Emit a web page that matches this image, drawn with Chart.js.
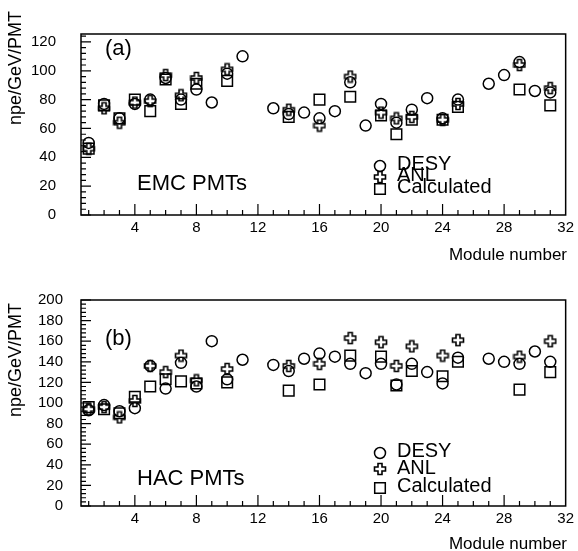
<!DOCTYPE html>
<html lang="en">
<head>
  <meta charset="UTF-8">
  <title>EMC / HAC PMT light yield</title>
  <script src="https://cdn.jsdelivr.net/npm/chart.js"></script>
  <style>
    body { margin: 0; background: #fff; }
    canvas { position: absolute; left: 0; }
    #emcChart { top: 0; }
    #hacChart { top: 268px; }
  </style>
</head>
<body>
  <canvas id="emcChart" width="578" height="268"></canvas>
  <canvas id="hacChart" width="578" height="283"></canvas>

  <script>
    // module numbers 1..31 (12 and 26 have no data)
    const modules = [1,2,3,4,5,6,7,8,9,10,11,12,13,14,15,16,17,18,19,20,21,22,23,24,25,26,27,28,29,30,31];
    const xTicks = [4, 8, 12, 16, 20, 24, 28, 32];
    const emcTicks = [0, 20, 40, 60, 80, 100, 120];
    const hacTicks = [0, 20, 40, 60, 80, 100, 120, 140, 160, 180, 200];

    // (a) EMC PMTs
    const emcDesy = [50,77,67,77,80,95,80,87,78,98,110,null,74,70,71,67,72,92,62,77,64,73,81,67,80,null,91,97,106,86,85];
    const emcAnl  = [46,74,64,78,79,97,83,95,null,101,null,null,null,73,null,62,null,96,null,71,67,68,null,66,77,null,null,null,104,null,88];
    const emcCalc = [46,76,67,80,72,94,77,91,null,93,null,null,null,68,null,80,null,82,null,69,56,66,null,66,75,null,null,null,87,null,76];

    // (b) HAC PMTs
    const hacDesy = [93,98,92,95,136,114,139,116,160,123,142,null,137,131,143,148,145,138,129,138,118,138,130,119,144,null,143,140,138,150,140];
    const hacAnl  = [94,96,86,102,136,130,146,122,null,133,null,null,null,136,null,138,null,163,null,159,136,155,null,146,161,null,null,null,145,null,160];
    const hacCalc = [96,94,90,106,116,123,121,119,null,120,null,null,null,112,null,118,null,146,null,145,117,131,null,126,140,null,null,null,113,null,130];

    const FONT = "'Liberation Sans', Arial, sans-serif";

    // open "plus" marker like the original plot
    function makePlus() {
      const c = document.createElement('canvas');
      c.width = 14; c.height = 14;
      const g = c.getContext('2d');
      const s = 5.5, a = 2;
      g.translate(7, 7);
      g.beginPath();
      g.moveTo(-a, -s); g.lineTo(a, -s); g.lineTo(a, -a); g.lineTo(s, -a);
      g.lineTo(s, a); g.lineTo(a, a); g.lineTo(a, s); g.lineTo(-a, s);
      g.lineTo(-a, a); g.lineTo(-s, a); g.lineTo(-s, -a); g.lineTo(-a, -a);
      g.closePath();
      g.lineWidth = 1.6;
      g.strokeStyle = '#000';
      g.stroke();
      return c;
    }
    const plusImg = makePlus();

    function pts(vals) {
      const out = [];
      vals.forEach((v, i) => { if (v !== null) out.push({ x: modules[i], y: v }); });
      return out;
    }

    function drawMarker(ctx, kind, x, y) {
      ctx.beginPath();
      if (kind === 'circle') ctx.arc(x, y, 5.5, 0, Math.PI * 2);
      else if (kind === 'rect') ctx.rect(x - 5.3, y - 5.3, 10.6, 10.6);
      else { ctx.drawImage(plusImg, x - 7, y - 7); return; }
      ctx.stroke();
    }

    const decor = {
      id: 'decor',
      afterDraw(chart, args, o) {
        const { ctx, chartArea: a, scales: { x, y } } = chart;
        ctx.save();
        ctx.strokeStyle = '#000';
        ctx.lineWidth = 1.5;
        ctx.strokeRect(a.left, a.top, a.right - a.left, a.bottom - a.top);

        // inside ticks
        ctx.lineWidth = 1.2;
        ctx.beginPath();
        for (let m = 1; m < 32; m++) {
          const px = x.getPixelForValue(m);
          const len = m % 4 === 0 ? 11 : 5;
          ctx.moveTo(px, a.bottom); ctx.lineTo(px, a.bottom - len);
        }
        for (let v = 0; v <= y.max; v += 4) {
          const py = y.getPixelForValue(v);
          const len = v % 20 === 0 ? 10 : 5;
          ctx.moveTo(a.left, py); ctx.lineTo(a.left + len, py);
        }
        ctx.stroke();

        ctx.fillStyle = '#000';
        ctx.textBaseline = 'alphabetic';

        // panel tag and name
        ctx.font = '22px ' + FONT;
        ctx.textAlign = 'left';
        ctx.fillText(o.tag, o.tagX, o.tagY);
        ctx.fillText(o.name, o.nameX, o.nameY);

        // x title
        ctx.font = '17px ' + FONT;
        ctx.textAlign = 'right';
        ctx.fillText('Module number', 567, o.xTitleY);

        // y title
        ctx.save();
        ctx.translate(21, o.yTitleEnd);
        ctx.rotate(-Math.PI / 2);
        ctx.font = '18px ' + FONT;
        ctx.textAlign = 'right';
        ctx.fillText('npe/GeV/PMT', 0, 0);
        ctx.restore();

        // legend
        ctx.lineWidth = 1.5;
        ctx.font = '20px ' + FONT;
        ctx.textAlign = 'left';
        const kinds = ['circle', 'plus', 'rect'];
        const names = ['DESY', 'ANL', 'Calculated'];
        kinds.forEach((k, i) => {
          drawMarker(ctx, k, 380, o.legMarkY[i]);
          ctx.fillText(names[i], 397, o.legTextY[i]);
        });
        ctx.restore();
      }
    };

    function makeChart(id, desy, anl, calc, yMax, yTicks, opt) {
      const common = { showLine: false, borderColor: '#000', backgroundColor: 'rgba(0,0,0,0)', pointBorderWidth: 1.5, pointHoverRadius: 6 };
      return new Chart(document.getElementById(id), {
        type: 'scatter',
        data: {
          datasets: [
            Object.assign({ label: 'DESY', data: pts(desy), pointStyle: 'circle', pointRadius: 5.5 }, common),
            Object.assign({ label: 'ANL', data: pts(anl), pointStyle: plusImg, pointRadius: 6 }, common),
            Object.assign({ label: 'Calculated', data: pts(calc), pointStyle: 'rect', pointRadius: 7.5 }, common)
          ]
        },
        options: {
          responsive: false,
          animation: false,
          layout: { padding: { top: opt.padTop, right: 12, left: 0, bottom: 0 } },
          plugins: { legend: { display: false }, tooltip: { enabled: false }, decor: opt.decor },
          scales: {
            x: {
              type: 'linear', min: 0.5, max: 32,
              afterBuildTicks: s => { s.ticks = xTicks.map(v => ({ value: v })); s.min = 0.5; s.max = 32; },
              afterFit: s => { s.height = opt.xHeight; },
              grid: { display: false, drawTicks: false }, border: { display: false },
              ticks: { color: '#000', font: { family: FONT, size: 15 }, padding: opt.xPad, maxRotation: 0, autoSkip: false }
            },
            y: {
              min: 0, max: yMax,
              afterBuildTicks: s => { s.ticks = yTicks.map(v => ({ value: v })); s.min = 0; s.max = yMax; },
              afterFit: s => { s.width = 81; },
              grid: { display: false, drawTicks: false }, border: { display: false },
              ticks: { color: '#000', font: { family: FONT, size: 15 }, padding: opt.yPad, autoSkip: false }
            }
          }
        },
        plugins: [decor]
      });
    }

    makeChart('emcChart', emcDesy, emcAnl, emcCalc, 125.5, emcTicks, {
      padTop: 13, xHeight: 53, xPad: 4, yPad: 25,
      decor: {
        tag: '(a)', tagX: 105, tagY: 55,
        name: 'EMC PMTs', nameX: 137, nameY: 190,
        xTitleY: 260, yTitleEnd: 11,
        legMarkY: [166, 177, 189], legTextY: [170, 181, 193]
      }
    });

    const off = 268;
    makeChart('hacChart', hacDesy, hacAnl, hacCalc, 200, hacTicks, {
      padTop: 300 - off, xHeight: 45, xPad: 4, yPad: 18,
      decor: {
        tag: '(b)', tagX: 105, tagY: 345 - off,
        name: 'HAC PMTs', nameX: 137, nameY: 485 - off,
        xTitleY: 549 - off, yTitleEnd: 303 - off,
        legMarkY: [453 - off, 469 - off, 488 - off], legTextY: [457 - off, 474 - off, 492 - off]
      }
    });
  </script>
</body>
</html>
